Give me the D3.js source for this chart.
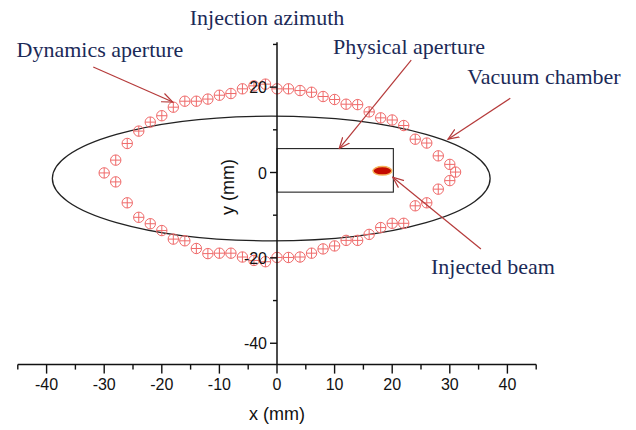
<!DOCTYPE html>
<html>
<head>
<meta charset="utf-8">
<script src="https://cdn.jsdelivr.net/npm/d3@7"></script>
<style>
  html, body { margin: 0; padding: 0; background: #fff; }
  svg { display: block; }
</style>
</head>
<body>
<svg id="chart" width="636" height="430"></svg>
<script>
// ---------- data ----------
const xTicks = [-40, -30, -20, -10, 0, 10, 20, 30, 40];
const yTicks = [-40, -20, 0, 20];
const xMinorTicks = [-45, -35, -25, -15, -5, 5, 15, 25, 35, 45];
const yMinorTicks = [-30, -10, 10, 30];

// dynamic aperture boundary points (mm), in ring order
const daX = [-30, -28, -26, -24, -22, -20, -18, -16, -14, -12, -10, -8, -6, -4, -2, 0, 2, 4, 6, 8, 10, 12, 14, 16, 18, 20, 22, 24, 26, 28, 30, 31,
             30, 28, 26, 24, 22, 20, 18, 16, 14, 12, 10, 8, 6, 4, 2, 0, -2, -4, -6, -8, -10, -12, -14, -16, -18, -20, -22, -24, -26, -28];
const daY = [-0.1, 2.9, 6.8, 9.7, 11.8, 13.3, 15.3, 16.7, 16.7, 17.2, 18.1, 18.5, 19.6, 20.3, 20.7, 19.6, 19.6, 19.2, 18.8, 17.8, 17.1, 16.0, 15.9, 14.2, 12.8, 12.3, 11.0, 7.8, 6.9, 3.9, 1.9, 0.1,
             -1.9, -3.9, -7.1, -7.8, -11.9, -11.9, -12.9, -14.5, -15.9, -15.9, -17.2, -17.9, -18.9, -19.8, -19.9, -19.9, -20.9, -20.6, -19.8, -18.9, -18.9, -19.0, -17.8, -16.0, -15.6, -13.6, -12.0, -10.5, -7.1, -2.2];

// vacuum chamber ellipse (mm)
const chamberCenter = [-1, -1.4];
const chamberRadii = [38, 14.6];

// physical aperture rectangle (mm): [x0, x1], [y0, y1]
const apertureX = [0, 20.2];
const apertureY = [-4.6, 5.6];

// injected beam (mm)
const beamCenter = [18.3, 0.4];
const beamRadii = [1.65, 1.0];

// annotation arrows (mm): [x1, y1, x2, y2]
const arrows = [
  [-31.9, 24.7, -18.1, 16.5],
  [23.3, 26.3, 10.8, 5.6],
  [40.5, 17.4, 29.7, 7.8],
  [35.4, -17.9, 20.1, -1.1]
];
const labels = ["Injection azimuth", "Dynamics aperture", "Physical aperture", "Vacuum chamber", "Injected beam"];

// ---------- layout ----------
const svg = d3.select("#chart");
const x = d3.scaleLinear().domain([-45, 45]).range([17.8, 536.2]);
const y = d3.scaleLinear().domain([-45, 30.5]).range([364.6, 42.3]);

const serif = "'Liberation Serif', 'Times New Roman', serif";
const sans = "'Liberation Sans', Arial, sans-serif";
const textCol = "#1b2a57";
const arrowCol = "#b53a3a";

// arrow marker
svg.append("defs").append("marker")
  .attr("id", "ah")
  .attr("viewBox", "0 0 12 12")
  .attr("refX", 11).attr("refY", 6)
  .attr("markerWidth", 12).attr("markerHeight", 12)
  .attr("markerUnits", "userSpaceOnUse")
  .attr("orient", "auto")
  .append("path")
  .attr("d", "M0,1.5 L11,6 L0,10.5")
  .attr("fill", "none")
  .attr("stroke", arrowCol)
  .attr("stroke-width", 1.2);

// vacuum chamber
svg.append("ellipse")
  .attr("cx", x(chamberCenter[0]))
  .attr("cy", y(chamberCenter[1]))
  .attr("rx", x(chamberCenter[0] + chamberRadii[0]) - x(chamberCenter[0]))
  .attr("ry", y(chamberCenter[1]) - y(chamberCenter[1] + chamberRadii[1]))
  .attr("fill", "none")
  .attr("stroke", "#222")
  .attr("stroke-width", 1.3);

// physical aperture
svg.append("rect")
  .attr("x", x(apertureX[0]))
  .attr("y", y(apertureY[1]))
  .attr("width", x(apertureX[1]) - x(apertureX[0]))
  .attr("height", y(apertureY[0]) - y(apertureY[1]))
  .attr("fill", "none")
  .attr("stroke", "#222")
  .attr("stroke-width", 1.1);

// injected beam
svg.append("ellipse")
  .attr("cx", x(beamCenter[0]))
  .attr("cy", y(beamCenter[1]))
  .attr("rx", x(beamCenter[0] + beamRadii[0]) - x(beamCenter[0]))
  .attr("ry", y(beamCenter[1]) - y(beamCenter[1] + beamRadii[1]))
  .attr("fill", "#c40a00")
  .attr("stroke", "#f6b35a")
  .attr("stroke-width", 1.4);

// dynamic aperture markers
const pts = daX.map((d, i) => [d, daY[i]]);
const r = 5.2;
const g = svg.append("g").attr("stroke", "#ef6a6a").attr("stroke-width", 1).attr("fill", "none");
const mk = g.selectAll("g.pt").data(pts).join("g")
  .attr("class", "pt")
  .attr("transform", d => `translate(${x(d[0])},${y(d[1])})`);
mk.append("circle").attr("r", r);
mk.append("line").attr("x1", -r).attr("x2", r).attr("y1", 0).attr("y2", 0);
mk.append("line").attr("y1", -r).attr("y2", r).attr("x1", 0).attr("x2", 0);

// axes
const axCol = "#111";
// x axis at y = -45
const xAxisY = y(-45);
svg.append("line").attr("x1", x(-45)).attr("x2", x(45)).attr("y1", xAxisY).attr("y2", xAxisY)
  .attr("stroke", axCol).attr("stroke-width", 1.5);
svg.append("g").selectAll("line").data(xTicks).join("line")
  .attr("x1", d => x(d)).attr("x2", d => x(d)).attr("y1", xAxisY).attr("y2", xAxisY + 9)
  .attr("stroke", axCol).attr("stroke-width", 1.4);
svg.append("g").selectAll("line").data(xMinorTicks).join("line")
  .attr("x1", d => x(d)).attr("x2", d => x(d)).attr("y1", xAxisY).attr("y2", xAxisY + 5)
  .attr("stroke", axCol).attr("stroke-width", 1.4);
svg.append("g").selectAll("text").data(xTicks).join("text")
  .attr("x", d => x(d)).attr("y", xAxisY + 25)
  .attr("text-anchor", "middle")
  .attr("font-family", sans).attr("font-size", 16).attr("fill", "#111")
  .text(d => d);

// y axis at x = 0
const yAxisX = x(0);
svg.append("line").attr("x1", yAxisX).attr("x2", yAxisX).attr("y1", y(30.5)).attr("y2", xAxisY)
  .attr("stroke", axCol).attr("stroke-width", 1.5);
svg.append("g").selectAll("line").data(yTicks).join("line")
  .attr("x1", yAxisX - 7).attr("x2", yAxisX).attr("y1", d => y(d)).attr("y2", d => y(d))
  .attr("stroke", axCol).attr("stroke-width", 1.4);
svg.append("g").selectAll("line").data(yMinorTicks).join("line")
  .attr("x1", yAxisX - 4).attr("x2", yAxisX).attr("y1", d => y(d)).attr("y2", d => y(d))
  .attr("stroke", axCol).attr("stroke-width", 1.4);
svg.append("g").selectAll("text").data(yTicks).join("text")
  .attr("x", yAxisX - 10).attr("y", d => y(d) + 6)
  .attr("text-anchor", "end")
  .attr("font-family", sans).attr("font-size", 16).attr("fill", "#111")
  .text(d => d);

// axis titles
svg.append("text").attr("x", x(0)).attr("y", 420)
  .attr("text-anchor", "middle").attr("font-family", sans).attr("font-size", 18).attr("fill", "#111")
  .text("x (mm)");
svg.append("text").attr("transform", `translate(234,187) rotate(-90)`)
  .attr("text-anchor", "middle").attr("font-family", sans).attr("font-size", 18).attr("fill", "#111")
  .text("y (mm)");

// annotation arrows
svg.append("g").selectAll("line").data(arrows).join("line")
  .attr("x1", d => x(d[0])).attr("y1", d => y(d[1]))
  .attr("x2", d => x(d[2])).attr("y2", d => y(d[3]))
  .attr("stroke", arrowCol).attr("stroke-width", 1.2)
  .attr("marker-end", "url(#ah)");

// annotation texts
const labelPos = [[267, 25], [100, 57], [409, 54], [544, 84], [493, 274]];
svg.append("g").selectAll("text").data(labels).join("text")
  .attr("x", (d, i) => labelPos[i][0]).attr("y", (d, i) => labelPos[i][1])
  .attr("text-anchor", "middle")
  .attr("font-family", serif).attr("font-size", 22).attr("fill", textCol)
  .text(d => d);
</script>
</body>
</html>
